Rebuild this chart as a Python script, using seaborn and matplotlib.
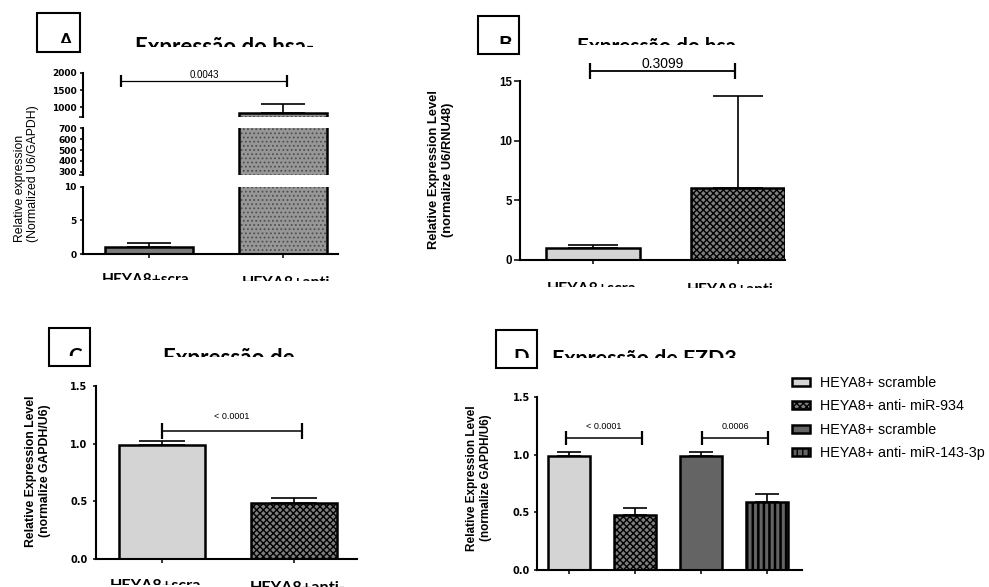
import numpy as np
import pandas as pd
import matplotlib
matplotlib.use("Agg")
import matplotlib.pyplot as plt
import matplotlib.colors as mcolors
from matplotlib.patches import Rectangle
from matplotlib.transforms import Bbox, TransformedBbox
import seaborn as sns

# ---------------- data ----------------
# Panel A: miRNA expression, broken y axis
a_values = [1.0, 830.0]
a_errors = [0.6, 265.0]
a_pvalue = "0.0043"
a_ticks_top = [1000, 1500, 2000]
a_ticks_mid = [300, 400, 500, 600, 700]
a_ticks_bot = [0, 5, 10]

# Panel B
b_values = [1.0, 6.0]
b_errors = [0.25, 7.75]
b_pvalue = "0.3099"
b_ticks = [0, 5, 10, 15]

# Panel C
c_values = [0.99, 0.485]
c_errors = [0.03, 0.045]
c_pvalue = "< 0.0001"

# Panel D: FZD3
d_labels = ["HEYA8+ scramble", "HEYA8+ anti- miR-934",
            "HEYA8+ scramble", "HEYA8+ anti- miR-143-3p"]
d_values = [0.99, 0.48, 0.99, 0.59]
d_errors = [0.03, 0.06, 0.03, 0.07]
d_pvalues = ["< 0.0001", "0.0006"]
cd_ticks = [0.0, 0.5, 1.0, 1.5]

group_labels = ["HEYA8+scra", "HEYA8+anti-"]
titles = ["Expressão do hsa-", "Expressão do hsa-", "Expressão de", "Expressão de FZD3"]
panel_letters = ["A", "B", "C", "D"]

# ---------------- style ----------------
LIGHT = "#d4d4d4"
MID = "#7b7b7b"
DARK = "#646464"
CHECK = "#7e7e7e"
STIPPLE = "#979797"

sns.set_theme(style="ticks", rc={"axes.facecolor": "white", "figure.facecolor": "white"})
plt.rcParams["font.family"] = ["Liberation Sans", "DejaVu Sans"]
plt.rcParams.update({
    "hatch.linewidth": 1.0,
    "axes.edgecolor": "black",
    "xtick.color": "black",
    "ytick.color": "black",
    "text.color": "black",
    "axes.labelcolor": "black",
})
CAL = ["Lato", "DejaVu Sans"]

W, H = 989, 587
fig = plt.figure(figsize=(W / 100, H / 100), dpi=100)
renderer = fig.canvas.get_renderer()


def fx(x):
    return x / W


def fy(y):
    return 1 - y / H


def add_axes_px(x0, y0, x1, y1):
    return fig.add_axes([fx(x0), fy(y1), (x1 - x0) / W, (y1 - y0) / H])


def clipped_text(s, left, cap_top, clip_bottom, width=None, size=14, family=CAL,
                 weight="bold", cap_ratio=0.72):
    t = fig.text(fx(left), fy(cap_top), s, fontsize=size, family=family,
                 weight=weight, ha="left", va="baseline")
    if width is not None:
        w = t.get_window_extent(renderer).width
        size = size * width / w
        t.set_fontsize(size)
    cap = cap_ratio * size * 100 / 72
    t.set_y(fy(cap_top + cap))
    clip = TransformedBbox(Bbox.from_extents(0, fy(clip_bottom), 1, 1), fig.transFigure)
    t.set_clip_box(clip)
    t.set_clip_on(True)
    return t


def letter_box(x0, y0, x1, y1):
    fig.add_artist(Rectangle((fx(x0), fy(y1)), (x1 - x0) / W, (y1 - y0) / H,
                             transform=fig.transFigure, fill=False,
                             lw=1.5, ec="black"))


def set_hatch(p, hatch, color, lw):
    p.set_hatch(hatch)
    p._hatch_color = mcolors.to_rgba(color)
    if hasattr(p, "set_hatch_linewidth"):
        p.set_hatch_linewidth(lw)


def draw_bars(ax, values, colors, width):
    keys = [f"bar{i}" for i in range(len(values))]
    df = pd.DataFrame({"key": keys, "value": values})
    sns.barplot(data=df, x="key", y="value", hue="key", palette=colors,
                width=width, saturation=1, edgecolor="black", linewidth=1.8,
                errorbar=None, legend=False, ax=ax)
    return list(ax.patches[-len(values):])


def draw_errors(ax, values, errors, capsize):
    x = np.arange(len(values))
    ax.errorbar(x, values, yerr=[np.zeros(len(values)), errors], fmt="none",
                ecolor="black", elinewidth=1.2, capsize=capsize, capthick=1.2)


def style_axis(ax, n, xlim, ylim, yticks, ylabels, tick_font, tick_size,
               ylen, ypad, bottom=True):
    ax.set_xlim(*xlim)
    ax.set_ylim(*ylim)
    ax.set_xlabel("")
    ax.set_ylabel("")
    ax.set_facecolor("none")
    for side in ("top", "right"):
        ax.spines[side].set_visible(False)
    for s in ax.spines.values():
        s.set_linewidth(1.5)
    ax.set_yticks(yticks, labels=ylabels, fontsize=tick_size,
                  fontweight="bold", family=tick_font)
    ax.tick_params(axis="y", length=ylen, width=1.1, pad=ypad)
    if bottom:
        ax.set_xticks(range(n), labels=[])
        ax.tick_params(axis="x", length=3, width=1.1)
    else:
        ax.spines["bottom"].set_visible(False)
        ax.set_xticks([])


def bracket(ax, x0, x1, y, text, fontsize, cap_pt, lw=1.0, pad=1.0):
    ax.plot([x0, x1], [y, y], color="black", lw=lw, marker="|",
            markersize=cap_pt, mew=1.6, clip_on=False, solid_capstyle="butt")
    ax.annotate(text, xy=((x0 + x1) / 2, y), xytext=(0, pad),
                textcoords="offset points", ha="center", va="bottom",
                fontsize=fontsize, annotation_clip=False)


# ---------------- panel A (broken axis) ----------------
a_xlim = (-0.497, 1.415)
a_segments = [
    ((72.7, 116.7), (730, 2000), a_ticks_top, False),
    ((128.3, 175.0), (270, 700), a_ticks_mid, False),
    ((186.7, 254.0), (0, 10), a_ticks_bot, True),
]
a_axes = []
for (y0, y1), ylim, ticks, bottom in a_segments:
    ax = add_axes_px(83, y0, 338, y1)
    bars = draw_bars(ax, a_values, [MID, STIPPLE], 0.66)
    set_hatch(bars[1], "....", "#505050", 0.8)
    draw_errors(ax, a_values, a_errors, 15.5)
    style_axis(ax, 2, a_xlim, ylim, ticks, [str(t) for t in ticks],
               "DejaVu Sans", 6.5, 2.5, 2.0, bottom=bottom)
    if not bottom:
        ax.set_yticks([ylim[0]], minor=True)
        ax.tick_params(axis="y", which="minor", length=3, width=1.1)
    a_axes.append(ax)
bracket(a_axes[0], -0.21, 1.035, 1760, a_pvalue, 7, 8, lw=0.9, pad=0.5)

fig.text(fx(26.5), fy(242), "Relative expression\n(Normalized U6/GAPDH)",
         rotation=90, ha="center", va="bottom", multialignment="left",
         fontsize=8.8)

# ---------------- panel B ----------------
axB = add_axes_px(520, 81, 785, 260)
barsB = draw_bars(axB, b_values, [LIGHT, CHECK], 0.65)
set_hatch(barsB[1], "xxxxx", "black", 1.0)
draw_errors(axB, b_values, b_errors, 18)
style_axis(axB, 2, (-0.503, 1.324), (0, 15), b_ticks, [str(t) for t in b_ticks],
           "Liberation Sans", 8.3, 4, 1.5)
bracket(axB, -0.02, 0.98, 15.8, b_pvalue, 10, 11, lw=1.3, pad=0.5)
fig.text(fx(441), fy(170), "Relative Expression Level\n(normalize U6/RNU48)",
         rotation=90, ha="center", va="center", fontsize=9.3, fontweight="bold")

# ---------------- panel C ----------------
axC = add_axes_px(96, 386, 357, 559)
barsC = draw_bars(axC, c_values, [LIGHT, CHECK], 0.65)
set_hatch(barsC[1], "xxxxx", "black", 1.0)
draw_errors(axC, c_values, c_errors, 16.5)
style_axis(axC, 2, (-0.5, 1.477), (0, 1.5), cd_ticks,
           [f"{t:.1f}" for t in cd_ticks], "DejaVu Sans", 7, 2.5, 3.5)
bracket(axC, 0.0, 1.06, 1.11, c_pvalue, 6.5, 11, lw=1.1, pad=7)
fig.text(fx(38), fy(471), "Relative Expression Level\n(normalize GAPDH/U6)",
         rotation=90, ha="center", va="center", fontsize=8.8, fontweight="bold")

# ---------------- panel D ----------------
axD = add_axes_px(537, 397, 802, 570)
barsD = draw_bars(axD, d_values, [LIGHT, CHECK, DARK, DARK], 0.64)
set_hatch(barsD[1], "xxxxx", "black", 1.0)
set_hatch(barsD[3], "|||", "black", 1.8)
draw_errors(axD, d_values, d_errors, 8.3)
style_axis(axD, 4, (-0.485, 3.53), (0, 1.5), cd_ticks,
           [f"{t:.1f}" for t in cd_ticks], "DejaVu Sans", 7, 2.5, 2.5)
bracket(axD, -0.05, 1.1, 1.145, d_pvalues[0], 6.5, 10, lw=1.1, pad=5)
bracket(axD, 2.02, 3.02, 1.145, d_pvalues[1], 6.5, 10, lw=1.1, pad=5)
fig.text(fx(479), fy(478), "Relative Expression Level\n(normalize GAPDH/U6)",
         rotation=90, ha="center", va="center", fontsize=8.5, fontweight="bold")

fig.legend(barsD, d_labels, loc="upper left", bbox_to_anchor=(fx(792), fy(376)),
           frameon=False, fontsize=10.3, handlelength=1.26, handleheight=0.5,
           handletextpad=0.7, labelspacing=0.66, borderpad=0, borderaxespad=0)

# ---------------- boxed panel letters and titles ----------------
letter_box(37, 13, 80, 52)
letter_box(478, 16, 519, 54)
letter_box(49, 328, 90, 366)
letter_box(496, 330, 537, 368)
clipped_text(panel_letters[0], 58, 33.3, 43.3, size=14.8)
clipped_text(panel_letters[1], 498, 36, 44.3, size=14.8)
clipped_text(panel_letters[2], 68, 348.3, 356, size=14.8)
clipped_text(panel_letters[3], 513, 349, 357.5, size=14.8)

clipped_text(titles[0], 135, 37.7, 46.7, width=180)
clipped_text(titles[1], 577, 38, 45, width=168)
clipped_text(titles[2], 163, 349, 357, width=132)
clipped_text(titles[3], 552, 350, 358, width=185)

# group labels under panels A, B and C
clipped_text(group_labels[0], 102, 273, 280, width=88)
clipped_text(group_labels[1], 242, 275, 281, width=95)
clipped_text(group_labels[0], 547, 282, 287, width=90)
clipped_text(group_labels[1], 687, 283, 288, width=93)
clipped_text(group_labels[0], 110, 578, 585, width=92)
clipped_text(group_labels[1], 250, 580, 587, width=97)

fig.savefig("out.png", dpi=100)
